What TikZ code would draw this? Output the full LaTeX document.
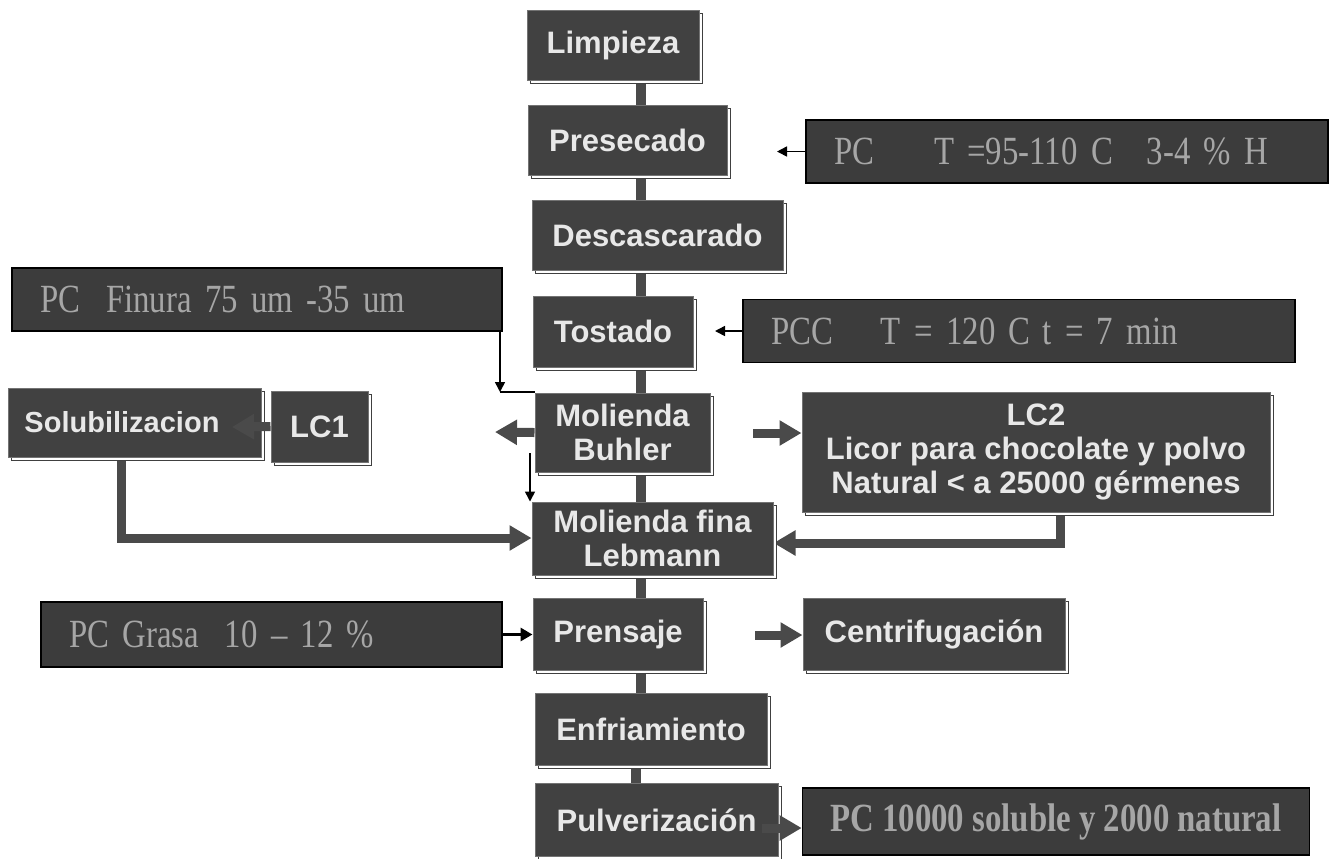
\documentclass[tikz,border=0pt]{standalone}
\usepackage{fontspec}
\setmainfont{Liberation Sans}
\newfontfamily\pcfont[FakeStretch=0.82]{Liberation Serif}
\usetikzlibrary{arrows.meta,positioning,backgrounds,shadows}
\definecolor{cajagris}{HTML}{414141}
\definecolor{cajapc}{HTML}{3C3C3C}
\definecolor{lineagris}{HTML}{4A4A4A}
\definecolor{textopaso}{HTML}{E8E8E8}
\definecolor{textopc}{HTML}{A6A6A6}
\tikzset{
  % cajas
  paso/.style={rectangle,fill=cajagris,draw=black!55,line width=0.5pt,
               text=textopaso,font=\fontsize{15.5}{17}\selectfont\bfseries,
               align=center,inner sep=2pt,
               drop shadow={shadow xshift=1.6pt,shadow yshift=-1.6pt,fill=white,
                            draw=black!75,line width=0.7pt,opacity=1}},
  pc/.style={rectangle,fill=cajapc,draw=black,line width=0.8pt,text=textopc,
             font=\pcfont\fontsize{20}{22}\selectfont,align=left,
             inner xsep=14pt,inner ysep=2pt},
  % conexiones
  tronco/.style={draw=lineagris,line width=5pt},
  grueso/.style={-{Triangle[length=11pt,width=12pt]},draw=lineagris,line width=4.5pt},
  fino/.style={-{Triangle[length=5pt,width=5pt]},draw=black,line width=0.8pt},
  medio/.style={-{Triangle[length=6pt,width=6.5pt]},draw=black,line width=1.5pt},
}
\begin{document}
\begin{tikzpicture}[x=0.5pt,y=-0.5pt]
  \useasboundingbox (0,0) rectangle (1331,858);
  % linea principal
  \node[paso,minimum width=86pt,minimum height=35pt] (limp) at (613,45) {Limpieza};
  \node[paso,minimum width=99.5pt,minimum height=35pt] (prese) at (627.5,140) {Presecado};
  \node[paso,minimum width=125.5pt,minimum height=35pt] (desc) at (657.5,235) {Descascarado};
  \node[paso,minimum width=80pt,minimum height=35.5pt] (tost) at (613,331.5) {Tostado};
  \node[paso,minimum width=87.5pt,minimum height=39.5pt] (buhl) at (622.5,432.5) {Molienda\\Buhler};
  \node[paso,minimum width=120.5pt,minimum height=36.5pt] (fina) at (652.5,538.5) {Molienda fina\\Lebmann};
  \node[paso,minimum width=85pt,minimum height=36pt] (prens) at (618,634) {Prensaje};
  \node[paso,minimum width=116pt,minimum height=36pt] (enfr) at (651,729) {Enfriamiento};
  \node[paso,minimum width=121.5pt,minimum height=36.5pt] (pulv) at (656.5,820) {Pulverización};
  % ramas
  \node[paso,minimum width=126.5pt,minimum height=34.5pt,
        font=\fontsize{14.5}{17}\selectfont\bfseries,text width=110pt,align=left] (solu) at (134.5,422.5) {Solubilizacion};
  \node[paso,minimum width=48.5pt,minimum height=35.5pt] (lc1) at (319.5,426.5) {LC1};
  \node[paso,minimum width=234pt,minimum height=60pt] (lc2) at (1036,452)
    {LC2\\Licor para chocolate y polvo\\Natural < a 25000 gérmenes};
  \node[paso,minimum width=131pt,minimum height=36pt] (centr) at (934,634) {Centrifugación};
  % puntos de control
  \node[pc,text width=233pt,minimum height=31.5pt] (pcT) at (1067,151.5)
    {PC\hspace{30pt}T =95-110 C\hspace{17pt}3-4 \% H};
  \node[pc,text width=248pt,minimum height=31.5pt] (pcc) at (1019,331)
    {PCC\hspace{24pt}T = 120 C\hspace{6pt}t = 7 min};
  \node[pc,text width=217pt,minimum height=31.5pt] (finura) at (257,299.5)
    {PC\hspace{13pt}Finura 75 um -35 um};
  \node[pc,text width=202.5pt,minimum height=32.5pt] (grasa) at (271.5,634.5)
    {PC Grasa\hspace{13pt}10 – 12 \%};
  \node[pc,align=center,minimum width=241pt,minimum height=33.5pt,
        font=\pcfont\fontsize{20}{22}\selectfont\bfseries] (pc10) at (1056,821.5)
    {PC 10000 soluble y 2000 natural};
  \coordinate (x0) at (641,0);
  \coordinate (x1) at (636,0);
  \coordinate (a1) at (777,151.5);
  \coordinate (a2) at (715,331);
  \coordinate (f1) at (500,392);
  \coordinate (a4) at (495,432);
  \coordinate (c5) at (753,433);
  \coordinate (c6) at (530,453);
  \coordinate (a7) at (232,427);
  \coordinate (c8) at (121,538);
  \coordinate (c9) at (1060,543);
  \coordinate (c11) at (755,635);
  \coordinate (c12) at (762,828);
  \begin{scope}[on background layer]
  \draw[tronco] (limp.south -| x0) -- (prese.north -| x0);
  \draw[tronco] (prese.south -| x0) -- (desc.north -| x0);
  \draw[tronco] (desc.south -| x0) -- (tost.north -| x0);
  \draw[tronco] (tost.south -| x0) -- (buhl.north -| x0);
  \draw[tronco] (buhl.south -| x0) -- (fina.north -| x0);
  \draw[tronco] (fina.south -| x0) -- (prens.north -| x0);
  \draw[tronco] (prens.south -| x0) -- (enfr.north -| x0);
  \draw[tronco] (enfr.south -| x1) -- (pulv.north -| x1);
  \draw[grueso] (c8 |- solu.south) -- (c8) -- (c8 -| fina.west);
  \draw[grueso] (c9 |- lc2.south) -- (c9) -- (c9 -| fina.east);
  \end{scope}
  \draw[fino] (pcT.west) -- (a1);
  \draw[fino] (pcc.west) -- (a2);
  \draw[fino] (finura.south -| f1) -- (f1);
  \draw[draw=black,line width=0.8pt] (f1) -- (f1 -| buhl.west);
  \draw[grueso] (buhl.west) -- (a4);
  \draw[grueso] (c5) -- (c5 -| lc2.west);
  \draw[fino] (c6) -- (c6 |- fina.north);
  \draw[grueso] (lc1.west) -- (a7);
  \draw[medio] (grasa.east) -- (prens.west |- grasa.east);
  \draw[grueso] (c11) -- (c11 -| centr.west);
  \draw[grueso] (c12) -- (c12 -| pc10.west);
\end{tikzpicture}
\end{document}
